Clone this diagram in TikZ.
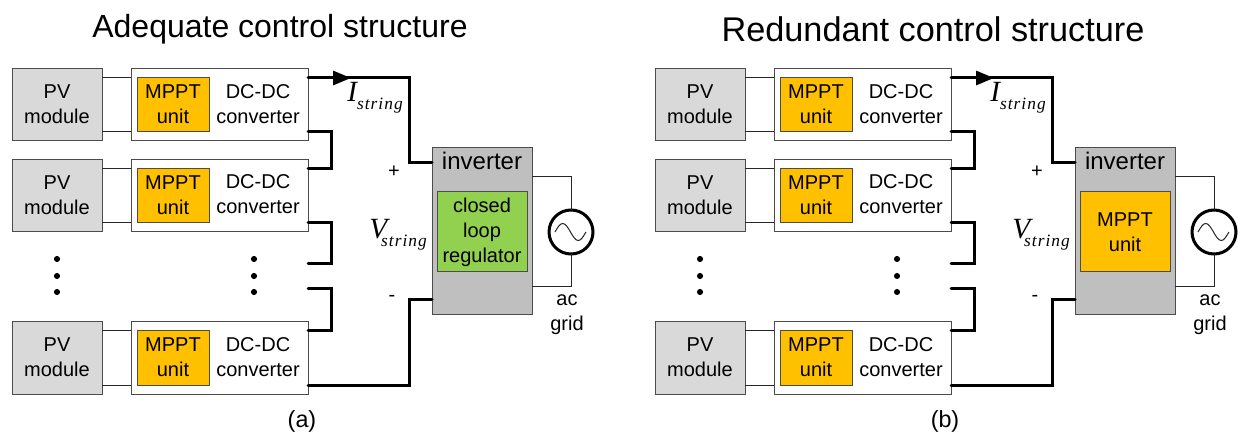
\documentclass[tikz,border=0pt]{standalone}
\usepackage{fontspec}
\setmainfont{Liberation Sans}
\newfontfamily\timesfont{Liberation Serif}
\usetikzlibrary{arrows.meta}
\newcommand{\labelsize}{\fontsize{15}{18.8}\selectfont}
\newcommand{\symb}[3]{{\timesfont\itshape\fontsize{22}{22}\selectfont #1\kern#3\raisebox{-6pt}{\fontsize{13}{13}\selectfont\addfontfeature{LetterSpace=6}#2}}}
\begin{document}
\begin{tikzpicture} [x=0.75pt,y=-0.75pt,thin]
\tikzstyle{box}=[draw=black!70,line width=0.75pt,outer sep=0pt,inner sep=0pt,align=center,font=\labelsize]
\tikzstyle{pv}=[box,fill=black!15,minimum width=67.5pt,minimum height=54pt]
\tikzstyle{conv}=[box,fill=white,minimum width=132.75pt,minimum height=54pt]
\tikzstyle{mppt}=[box,fill=orange1,minimum width=54pt,minimum height=40.5pt]
\tikzstyle{inv}=[box,fill=black!25,minimum width=75pt,minimum height=125.25pt]
\tikzstyle{txt}=[align=center,font=\labelsize,inner sep=0pt]
\tikzstyle{wire}=[line width=2.25pt,line cap=round]
\tikzstyle{lead}=[line width=0.75pt,draw=black!85]
\tikzstyle{dot}=[circle,fill=black,inner sep=0pt,minimum size=4.6pt]
\definecolor{orange1}{HTML}{FFC000}
\definecolor{green1}{HTML}{92D050}
\path[use as bounding box,fill=white] (0,0) rectangle (1238,434);
\foreach \p/\dx/\title/\capt/\inner/\innercol/\titlex/\titlesize in {%
  a/0pt/Adequate/(a)/{closed\\loop\\regulator}/green1/280/24,
  b/482.25pt/Redundant/(b)/{MPPT\\unit}/orange1/290/25.7} {
\begin{scope}[xshift=\dx]
\node[txt,font=\fontsize{\titlesize}{28}\selectfont] (\p title) at (\titlex,29) {\title\ control structure};
\node[txt,font=\fontsize{17.5}{20}\selectfont] (\p capt) at (302,421) {\capt};
% the modules of the string
\foreach \n/\y in {1/104,2/194.5,3/357} {
  \node[pv] (\p pv\n) at (57,\y+1) {\raisebox{1pt}{PV}\\\raisebox{1pt}{module}};
  \node[conv] (\p c\n) at (219.5,\y+1) {};
  \node[mppt] (\p m\n) at (173,\y+1) {\raisebox{1pt}{MPPT}\\\raisebox{1pt}{unit}};
  \node[txt] (\p t\n) at (258,\y) {DC-DC\\converter};
  \draw[lead] ([yshift=-6.75pt]\p pv\n.north east) -- ([yshift=-6.75pt]\p c\n.north west);
  \draw[lead] ([yshift=6.75pt]\p pv\n.south east) -- ([yshift=6.75pt]\p c\n.south west);
}
\foreach \n/\x/\y in {1/57/259,2/57/276,3/57/292,4/254/259,5/254/276,6/254/292}
  \node[dot] (\p d\n) at (\x,\y) {};
% inverter and grid
\node[inv] (\p inv) at (482,231.5) {};
\node[txt,font=\fontsize{18}{20}\selectfont] (\p invt) at (482,161) {inverter};
\node[box,fill=\innercol,minimum width=67.5pt,minimum height=60pt] (\p reg) at (482,232) {\inner};
\node[circle,draw=black,line width=2.25pt,minimum size=33pt,inner sep=0pt,outer sep=0pt] (\p ac) at (571,232) {};
\draw[lead] ([yshift=-21.75pt]\p inv.north east) -| (\p ac.north);
\draw[lead] ([yshift=21pt]\p inv.south east) -| (\p ac.south);
\draw[lead] ([xshift=-12pt]\p ac.center) sin ++(5.8pt,6.4pt) cos ++(5.8pt,-6.4pt) sin ++(5.8pt,-6.4pt) cos ++(5.8pt,6.4pt);
\node[txt] (\p grid) at (567,315) {ac\\grid};
% string wiring
\coordinate (\p j1) at (308,264);
\coordinate (\p j2) at (308,289);
\coordinate (\p tip) at (351,78);
\draw[wire] ([yshift=-6.75pt]\p c1.north east) -- ++(75.75pt,0) |- ([yshift=-11.25pt]\p inv.north west);
\draw[line width=2.25pt,-{Triangle[length=13.5pt,width=10.5pt]}] ([yshift=-6.75pt]\p c1.north east) -- (\p tip);
\draw[wire] ([yshift=6.75pt]\p c1.south east) -- ++(17.25pt,0) |- ([yshift=-6.75pt]\p c2.north east);
\draw[wire] ([yshift=6.75pt]\p c2.south east) -- ++(17.25pt,0) |- (\p j1);
\draw[wire] (\p j2) -- ++(17.25pt,0) |- ([yshift=-6.75pt]\p c3.north east);
\draw[wire] ([yshift=6.75pt]\p c3.south east) -- ++(75.75pt,0) |- ([yshift=11.25pt]\p inv.south west);
% string quantities
\node[txt] (\p plus) at (394,172) {+};
\node[txt] (\p minus) at (392,298) {-};
\node[txt,anchor=west] (\p istr) at (347,98) {\symb{I}{string}{0pt}};
\node[txt,anchor=west] (\p vstr) at (369,235) {\symb{V}{string}{-4.5pt}};
\end{scope}
}
\end{tikzpicture}
\end{document}
